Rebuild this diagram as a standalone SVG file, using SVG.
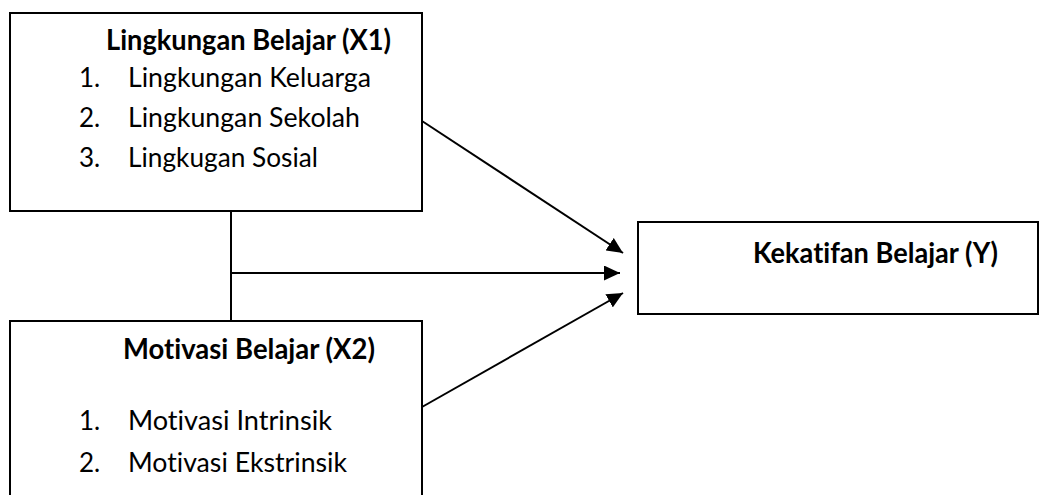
<svg xmlns="http://www.w3.org/2000/svg" width="1040" height="495" viewBox="0 0 1040 495">
<style>
.box{fill:#fff;stroke:#000;stroke-width:2}
.t{font-family:Lato,"Open Sans","Liberation Sans",sans-serif;fill:#000;font-variant-ligatures:none;font-feature-settings:"liga" 0,"clig" 0}
.b{font-weight:bold;font-size:28px}
.r{font-size:26px}
.c{stroke:#000;stroke-width:2;fill:none}
</style>
<defs>
<marker id="ah" markerUnits="userSpaceOnUse" markerWidth="17" markerHeight="15" refX="16" refY="7.5" orient="auto">
<path d="M0,0 L16,7.5 L0,15 z" fill="#000"/>
</marker>
</defs>
<rect width="1040" height="495" fill="#fff"/>
<g id="connectors">
<line class="c" x1="231" y1="211" x2="231" y2="321"/>
<line class="c" x1="231" y1="273" x2="620" y2="273" marker-end="url(#ah)"/>
<line class="c" x1="422" y1="121" x2="623" y2="253" marker-end="url(#ah)"/>
<line class="c" x1="422" y1="407" x2="623" y2="293" marker-end="url(#ah)"/>
</g>
<g id="x1">
<rect class="box" x="10" y="13" width="412" height="198"/>
<text class="t b" x="106" y="50" textLength="285" lengthAdjust="spacingAndGlyphs">Lingkungan Belajar (X1)</text>
<text class="t r" x="79" y="87">1.</text>
<text class="t r" x="128" y="87" textLength="243" lengthAdjust="spacingAndGlyphs">Lingkungan Keluarga</text>
<text class="t r" x="79" y="127">2.</text>
<text class="t r" x="128" y="127" textLength="232" lengthAdjust="spacingAndGlyphs">Lingkungan Sekolah</text>
<text class="t r" x="79" y="167">3.</text>
<text class="t r" x="128" y="167" textLength="190" lengthAdjust="spacingAndGlyphs">Lingkugan Sosial</text>
</g>
<g id="x2">
<rect class="box" x="10" y="321" width="412" height="190"/>
<text class="t b" x="123" y="359" textLength="252" lengthAdjust="spacingAndGlyphs">Motivasi Belajar (X2)</text>
<text class="t r" x="79" y="430">1.</text>
<text class="t r" x="128" y="430" textLength="204" lengthAdjust="spacingAndGlyphs">Motivasi Intrinsik</text>
<text class="t r" x="79" y="472">2.</text>
<text class="t r" x="128" y="472" textLength="219" lengthAdjust="spacingAndGlyphs">Motivasi Ekstrinsik</text>
</g>
<g id="y">
<rect class="box" x="638" y="222" width="400" height="92"/>
<text class="t b" x="753" y="263" textLength="245" lengthAdjust="spacingAndGlyphs">Kekatifan Belajar (Y)</text>
</g>
</svg>
